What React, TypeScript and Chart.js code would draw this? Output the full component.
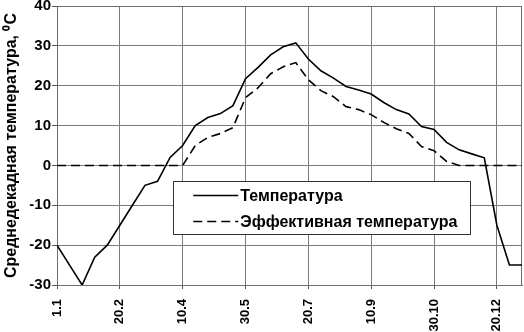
import React, { useEffect, useRef } from "react";
import { Chart, registerables } from "chart.js";

Chart.register(...registerables);

const seriesNames = ["Температура", "Эффективная температура"];
const xTickLabels = ["1.1", "20.2", "10.4", "30.5", "20.7", "10.9", "30.10", "20.12"];
const yTitle = "Среднедекадная температура, ⁰С";

const temperature = [
  -20, -25, -30, -23, -20, -15, -10, -5, -4, 2,
  5, 10, 12, 13, 15, 21.75, 24.6, 27.75, 29.75, 30.75,
  26.7, 23.75, 21.9, 19.8, 18.9, 17.9, 15.8, 14, 12.9, 9.75,
  9, 5.8, 3.9, 2.9, 1.9, -15, -25, -25,
];
const effective = [
  0, 0, 0, 0, 0, 0, 0, 0, 0, 0,
  0, 5, 7, 8, 9.5, 17, 19.5, 23, 24.75, 25.8,
  21.5, 18.75, 17.25, 14.75, 14, 12.75, 10.8, 9.2, 8, 4.75,
  3.7, 1, 0, 0, 0, 0, 0, 0,
];

const FONT = "'Liberation Sans', Arial, sans-serif";

const framePlugin = {
  id: "frame",
  beforeDatasetsDraw(chart: any) {
    const { ctx, chartArea: a } = chart;
    ctx.save();
    ctx.strokeStyle = "#6e6e6e";
    ctx.lineWidth = 1;
    ctx.strokeRect(Math.round(a.left) + 0.5, Math.round(a.top) + 0.5, Math.round(a.right - a.left) - 1, Math.round(a.bottom - a.top));
    ctx.restore();
  },
};

const legendPlugin = {
  id: "boxLegend",
  afterDraw(chart: any) {
    const { ctx } = chart;
    const xs = chart.scales.x;
    const ys = chart.scales.y;
    const left = xs.getPixelForValue(9.25);
    const right = xs.getPixelForValue(32.85);
    const top = ys.getPixelForValue(-4);
    const bottom = ys.getPixelForValue(-17.3);
    ctx.save();
    ctx.fillStyle = "#ffffff";
    ctx.fillRect(left, top, right - left, bottom - top);
    ctx.strokeStyle = "#333333";
    ctx.lineWidth = 1;
    ctx.strokeRect(Math.round(left) + 0.5, Math.round(top) + 0.5, Math.round(right - left), Math.round(bottom - top));
    const rows = [top + 14, top + 40];
    chart.data.datasets.forEach((ds: any, i: number) => {
      const y = Math.round(rows[i]) + 0.5;
      ctx.beginPath();
      ctx.setLineDash(ds.borderDash || []);
      ctx.strokeStyle = "#000";
      ctx.lineWidth = 1.6;
      ctx.moveTo(left + 20, y);
      ctx.lineTo(left + 65, y);
      ctx.stroke();
      ctx.setLineDash([]);
      ctx.fillStyle = "#000";
      ctx.font = `bold 16px ${FONT}`;
      ctx.textBaseline = "middle";
      ctx.textAlign = "left";
      ctx.fillText(ds.label, left + 67, y + 1);
    });
    ctx.restore();
  },
};

export default function App() {
  const ref = useRef<HTMLCanvasElement>(null);
  useEffect(() => {
    document.body.style.margin = "0";
    const pts = (arr: number[]) => arr.map((v, i) => ({ x: i, y: v }));
    const chart = new Chart(ref.current!, {
      type: "line",
      data: {
        datasets: [
          {
            label: seriesNames[0],
            data: pts(temperature),
            borderColor: "#000",
            borderWidth: 1.6,
            pointRadius: 0,
            tension: 0,
            fill: false,
          },
          {
            label: seriesNames[1],
            data: pts(effective),
            borderColor: "#000",
            borderWidth: 1.6,
            borderDash: [9, 5],
            pointRadius: 0,
            tension: 0,
            fill: false,
          },
        ],
      },
      options: {
        animation: false,
        responsive: false,
        maintainAspectRatio: false,
        layout: { padding: { top: 6, right: 2, left: 0, bottom: 0 } },
        plugins: { legend: { display: false }, tooltip: { enabled: false } },
        scales: {
          x: {
            type: "linear",
            min: 0,
            max: 37,
            grid: { color: "#7a7a7a", lineWidth: 1, tickLength: 4, tickColor: "#555" },
            border: { display: true, color: "#6e6e6e" },
            ticks: {
              stepSize: 5,
              includeBounds: false,
              autoSkip: false,
              maxRotation: 90,
              minRotation: 90,
              padding: 10,
              color: "#000",
              font: { family: FONT, size: 13, weight: "bold" },
              callback: (v: any) => {
                const i = Math.round(Number(v) / 5);
                return Number(v) % 5 === 0 ? xTickLabels[i] ?? "" : "";
              },
            },
            afterFit: (s: any) => {
              s.height = 47;
              s.paddingLeft = 0;
              s.paddingRight = 0;
            },
          },
          y: {
            min: -30,
            max: 40,
            grid: { color: "#7a7a7a", lineWidth: 1, tickLength: 5, tickColor: "#555" },
            border: { display: true, color: "#6e6e6e" },
            ticks: {
              stepSize: 10,
              padding: 1,
              color: "#000",
              font: { family: FONT, size: 15, weight: "bold" },
            },
            title: {
              display: true,
              text: yTitle,
              color: "#000",
              padding: { top: 2, bottom: 0 },
              font: { family: FONT, size: 16, weight: "bold" },
            },
            afterFit: (s: any) => {
              s.width = 57;
              s.paddingTop = 0;
              s.paddingBottom = 0;
            },
          },
        },
      },
      plugins: [framePlugin, legendPlugin],
    } as any);
    return () => chart.destroy();
  }, []);
  return (
    <div style={{ width: 524, height: 332 }}>
      <canvas ref={ref} width={524} height={332} style={{ display: "block" }} />
    </div>
  );
}
